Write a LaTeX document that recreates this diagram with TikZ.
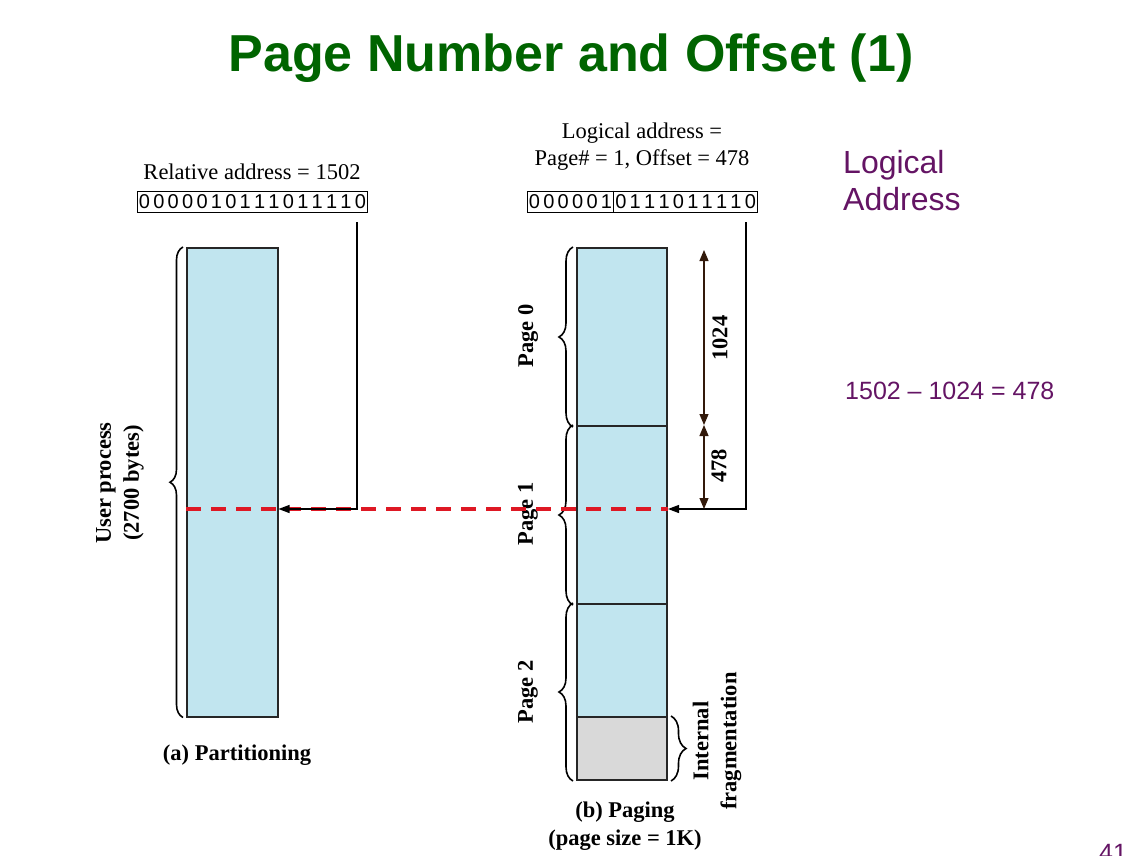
\documentclass[tikz,border=0pt]{standalone}
\usepackage{fontspec}
\setmainfont{Liberation Serif}
\newfontfamily\arialf{Liberation Sans}
\usetikzlibrary{arrows.meta,decorations.pathreplacing}
\makeatletter
\newcommand\spacedbits[1]{\@tfor\bitch:=#1\do{\makebox[14.4pt]{\bitch}}}
\makeatother
\definecolor{titlegreen}{RGB}{0,100,0}
\definecolor{lpurple}{RGB}{100,20,100}
\definecolor{memblue}{RGB}{193,229,239}
\definecolor{fraggray}{RGB}{217,217,217}
\definecolor{dashred}{RGB}{222,24,36}
\definecolor{dimbrown}{RGB}{50,25,10}
\begin{document}
\begin{tikzpicture}[x=1pt,y=-1pt,
  txt/.style={inner sep=0pt, font=\fontsize{22.5}{27}\selectfont},
  blbl/.style={inner sep=0pt, font=\fontsize{22.5}{28}\selectfont\bfseries},
  memblk/.style={draw=black!85, fill=memblue, inner sep=0pt, anchor=north west, minimum width=90pt, line width=2pt},
  bitbox/.style={draw, line width=1pt, inner sep=0pt, minimum height=21pt, font=\arialf\fontsize{20}{20}\selectfont},
  brc/.style={decorate, decoration={brace, amplitude=#1, aspect=0.5}, line width=1.6pt},
  conn/.style={line width=1.2pt, -{Triangle[length=11pt,width=8pt]}},
  dimarrow/.style={line width=1.2pt, dimbrown, {Triangle[length=11pt,width=9pt]}-{Triangle[length=11pt,width=9pt]}},
  redline/.style={dashred, line width=3.2pt, dash pattern=on 15pt off 10pt},
  purp/.style={inner sep=0pt, text=lpurple, font=\arialf\fontsize{#1}{37}\selectfont}
]
\useasboundingbox (0,0) rectangle (1122,856);

% title
\node[inner sep=0pt, anchor=base, text=titlegreen, font=\arialf\bfseries\fontsize{52}{60}\selectfont] (title) at (571,72) {Page Number and Offset (1)};

% (a) partitioning
\node[memblk, minimum width=91pt, minimum height=469pt, line width=1.5pt] (procA) at (186,247) {};
\draw[brc=13pt] ([xshift=-3pt]procA.south west) -- ([xshift=-3pt]procA.north west);
\node[blbl, rotate=90, align=center] (userp) at (120,483) {User process\\(2700 bytes)};
\node[blbl] (capA) at (237,755) {(a) Partitioning};

\node[txt] (relA) at (252,172) {Relative address = 1502};
\node[bitbox] (binA) at (252.5,201.5) {\spacedbits{0000010111011110}};

% (b) paging
\node[memblk, minimum height=178pt] (pg0) at (576,247) {};
\node[memblk, minimum height=178pt] (pg1) at (576,425) {};
\node[memblk, minimum height=113pt] (pg2) at (576,603) {};
\node[memblk, fill=fraggray, minimum height=63pt] (frag) at (576,716) {};

\draw[brc=14pt] ([xshift=-3pt]pg0.south west) -- ([xshift=-3pt]pg0.north west);
\draw[brc=14pt] ([xshift=-3pt]pg1.south west) -- ([xshift=-3pt]pg1.north west);
\draw[brc=14pt] ([xshift=-3pt]frag.south west) -- ([xshift=-3pt]pg2.north west);
\draw[brc=15pt] ([xshift=3pt]frag.north east) -- ([xshift=3pt]frag.south east);

\node[blbl, rotate=90] (p0) at (528,336) {Page 0};
\node[blbl, rotate=90] (p1) at (528,514) {Page 1};
\node[blbl, rotate=90] (p2) at (528,692) {Page 2};
\node[blbl, rotate=90, align=center] (fraglbl) at (717,741) {Internal\\fragmentation};
\node[blbl, align=center] (capB) at (625,826) {(b) Paging\\(page size = 1K)};

\node[txt, align=center] (logB) at (642,147) {Logical address =\\Page\# = 1, Offset = 478};
\node[bitbox] (binB) at (642.5,201.5) {\spacedbits{0000010111011110}};
\draw[line width=1pt] ([xshift=86.4pt]binB.north west) -- ([xshift=86.4pt]binB.south west);

% red dashed line
\coordinate (lvl) at (0,509);
\draw[redline] (procA.west |- lvl) -- (pg1.east |- lvl);

% connectors
\coordinate (startA) at (357,222);
\coordinate (startB) at (746,222);
\draw[conn] (startA) |- (procA.east |- lvl);
\draw[conn] (startB) |- (pg1.east |- lvl);

% dimensions
\coordinate (dtop) at (704,250);
\coordinate (dmid) at (704,425);
\coordinate (dbot) at (704,509);
\draw[dimarrow] (dtop) -- (dmid);
\draw[dimarrow] (dmid) -- (dbot);
\node[blbl, rotate=90] (n1024) at (720,338) {1024};
\node[blbl, rotate=90] (n478) at (719,466) {478};

% right side notes
\node[purp=32, anchor=base west] (la1) at (843,173) {Logical};
\node[purp=32, anchor=base west] (la2) at (843,210) {Address};
\node[purp=25, anchor=west] (calc) at (845,391) {1502 – 1024 = 478};
\node[purp=25, anchor=base west] (pnum) at (1099,861) {41};
\end{tikzpicture}
\end{document}
